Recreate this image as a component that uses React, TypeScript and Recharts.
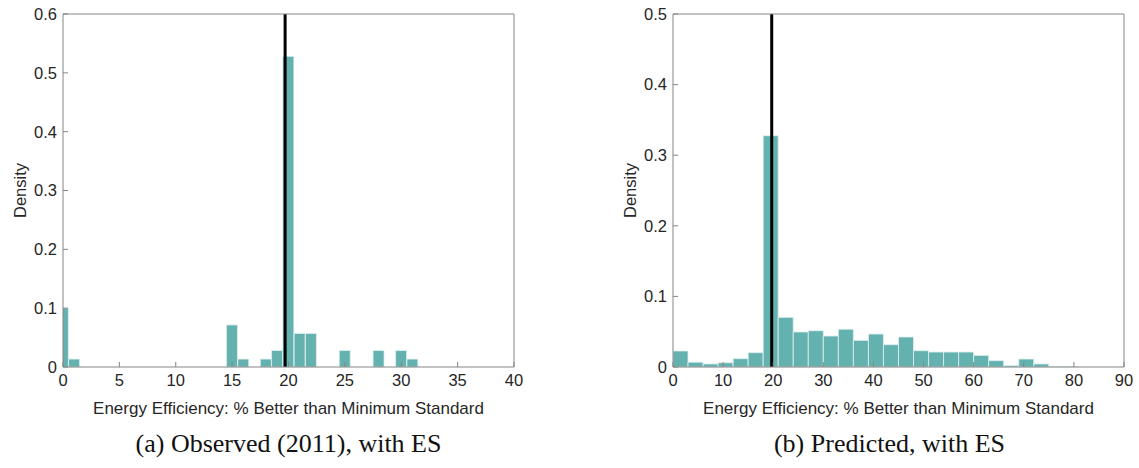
import { Bar, ComposedChart, ReferenceLine, XAxis, YAxis } from "recharts";

// (a) observed 2011, bins of width 1 centred on integers
const obsBinCenters = [0, 1, 15, 16, 18, 19, 20, 21, 22, 25, 28, 30, 31];
const obsDensity = [0.1, 0.0135, 0.0715, 0.0135, 0.0135, 0.028, 0.528, 0.057, 0.057, 0.028, 0.028, 0.028, 0.0135];
const obsXTicks = [0, 5, 10, 15, 20, 25, 30, 35, 40];
const obsYTicks = [0, 0.1, 0.2, 0.3, 0.4, 0.5, 0.6];

// (b) predicted, bins of width 3
const predBinCenters = [
  1.5, 4.5, 7.5, 10.5, 13.5, 16.5, 19.5, 22.5, 25.5, 28.5, 31.5, 34.5, 37.5, 40.5,
  43.5, 46.5, 49.5, 52.5, 55.5, 58.5, 61.5, 64.5, 67.5, 70.5, 73.5, 76.5, 79.5,
];
const predDensity = [
  0.0227, 0.0068, 0.0043, 0.006, 0.0118, 0.0203, 0.3276, 0.0703, 0.0496, 0.0514,
  0.0439, 0.0535, 0.0377, 0.0467, 0.0316, 0.0425, 0.0231, 0.0212, 0.0212, 0.0212,
  0.0164, 0.009, 0.002, 0.0113, 0.0043, 0.0006, 0.0006,
];
const predXTicks = [0, 10, 20, 30, 40, 50, 60, 70, 80, 90];
const predYTicks = [0, 0.1, 0.2, 0.3, 0.4, 0.5];

const standardLine = 19.7;

const xTitle = "Energy Efficiency: % Better than Minimum Standard";
const captions = ["(a) Observed (2011), with ES", "(b) Predicted, with ES"];

const BAR_FILL = "#64b2b0";
const AXIS = "#858585";
const TEXT = "#262626";
const SANS = "'Liberation Sans', Arial, sans-serif";

type HistProps = {
  centers: number[];
  density: number[];
  xMax: number;
  yMax: number;
  xTicks: number[];
  yTicks: number[];
  left: number;
  width: number;
  marginLeft: number;
};

function Histogram({ centers, density, xMax, yMax, xTicks, yTicks, left, width, marginLeft }: HistProps) {
  const rows = centers.map((c, i) => ({ x: c, density: density[i] }));
  const tickStyle = { fill: TEXT, fontSize: 16.5, fontFamily: SANS };

  return (
    <div style={{ position: "absolute", left, top: 0 }}>
      <ComposedChart
        width={width}
        height={420}
        data={rows}
        margin={{ top: 13, right: 14, bottom: 8, left: marginLeft }}
        barCategoryGap={0}
        barGap={0}
      >
        <XAxis
          dataKey="x"
          type="number"
          domain={[0, xMax]}
          ticks={xTicks}
          allowDataOverflow
          stroke={AXIS}
          tickSize={-5}
          tickMargin={12}
          tick={tickStyle}
          height={45}
          label={{
            value: xTitle,
            position: "insideBottom",
            offset: -2,
            fill: TEXT,
            fontSize: 17,
            fontFamily: SANS,
          }}
        />
        <XAxis
          xAxisId="top"
          orientation="top"
          type="number"
          domain={[0, xMax]}
          ticks={xTicks}
          allowDataOverflow
          stroke={AXIS}
          tickSize={-5}
          tick={false}
          height={1}
        />
        <YAxis
          type="number"
          domain={[0, yMax]}
          ticks={yTicks}
          stroke={AXIS}
          tickSize={-5}
          tickMargin={11}
          tick={tickStyle}
          width={45}
          label={{
            value: "Density",
            angle: -90,
            position: "insideLeft",
            offset: 2,
            fill: TEXT,
            fontSize: 16.5,
            fontFamily: SANS,
            style: { textAnchor: "middle" },
          }}
        />
        <YAxis
          yAxisId="right"
          orientation="right"
          type="number"
          domain={[0, yMax]}
          ticks={yTicks}
          stroke={AXIS}
          tickSize={-5}
          tick={false}
          width={1}
        />
        <Bar
          dataKey="density"
          fill={BAR_FILL}
          stroke="#dff0ef"
          strokeWidth={0.8}
          isAnimationActive={false}
        />
        <ReferenceLine x={standardLine} stroke="#000" strokeWidth={3} />
      </ComposedChart>
    </div>
  );
}

export default function App() {
  return (
    <div style={{ position: "absolute", left: 0, top: 0, width: 1139, height: 468, background: "#fff" }}>
      <Histogram
        centers={obsBinCenters}
        density={obsDensity}
        xMax={40}
        yMax={0.6}
        xTicks={obsXTicks}
        yTicks={obsYTicks}
        left={0}
        width={529}
        marginLeft={18}
      />
      <Histogram
        centers={predBinCenters}
        density={predDensity}
        xMax={90}
        yMax={0.5}
        xTicks={predXTicks}
        yTicks={predYTicks}
        left={560}
        width={579}
        marginLeft={68}
      />
      {captions.map((text, i) => (
        <div
          key={text}
          style={{
            position: "absolute",
            top: 429,
            left: i === 0 ? 63 : 664,
            width: 451,
            textAlign: "center",
            fontFamily: "'Liberation Serif', 'Times New Roman', serif",
            fontSize: 26,
            lineHeight: "30px",
            color: "#111",
            whiteSpace: "nowrap",
          }}
        >
          {text}
        </div>
      ))}
    </div>
  );
}
